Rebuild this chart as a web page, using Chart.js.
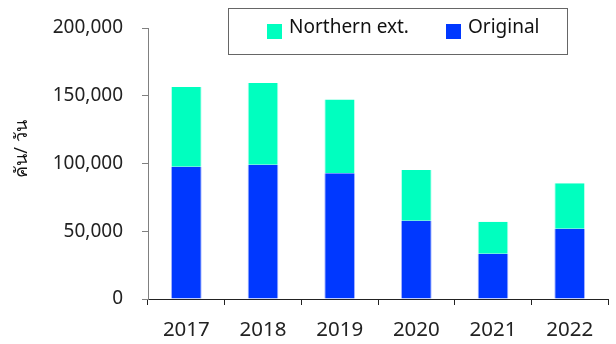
<!DOCTYPE html>
<html>
<head>
<meta charset="utf-8">
<script src="https://cdn.jsdelivr.net/npm/chart.js@4.4.1/dist/chart.umd.min.js"></script>
<style>
  html, body { margin: 0; padding: 0; background: #fff; }
  #wrap { width: 616px; height: 344px; position: relative; }
</style>
</head>
<body>
<div id="wrap"><canvas id="c"></canvas></div>
<script>
// data (vehicles per day)
const years = ["2017", "2018", "2019", "2020", "2021", "2022"];
const original = [97600, 99100, 92800, 57800, 33400, 51900];
const northernExt = [58900, 60300, 54400, 37400, 23600, 33500];
const yTicks = [0, 50000, 100000, 150000, 200000];
const yTitle = "คัน/ วัน";

const FONT = "'Noto Sans', sans-serif";
const GREEN = "#00ffbf";
const BLUE = "#0038ff";

// framed legend + rotated axis title, drawn by hand to match placement
const extras = {
  id: "extras",
  afterDraw(chart) {
    const ctx = chart.ctx;
    ctx.save();
    ctx.strokeStyle = "#666";
    ctx.lineWidth = 1;
    ctx.strokeRect(228.5, 8.5, 339, 46);

    const items = [
      { label: "Northern ext.", color: GREEN, x: 267 },
      { label: "Original", color: BLUE, x: 446 },
    ];
    ctx.font = `19px ${FONT}`;
    ctx.textBaseline = "middle";
    for (const it of items) {
      ctx.fillStyle = it.color;
      ctx.fillRect(it.x, 24, 15, 15);
      ctx.fillStyle = "#111";
      ctx.fillText(it.label, it.x + 22, 28);
    }

    ctx.translate(22, 149);
    ctx.rotate(-Math.PI / 2);
    ctx.textAlign = "center";
    ctx.font = `18px ${FONT}`;
    ctx.fillText(yTitle, 0, 0);
    ctx.restore();
  },
};

new Chart(document.getElementById("c"), {
  type: "bar",
  data: {
    labels: years,
    datasets: [
      { label: "Original", data: original, backgroundColor: BLUE, borderColor: "#9fb0ff", borderWidth: { left: 1, right: 1 }, barPercentage: 0.4, categoryPercentage: 1 },
      { label: "Northern ext.", data: northernExt, backgroundColor: GREEN, borderColor: "#b5ffec", borderWidth: { left: 1, right: 1 }, barPercentage: 0.4, categoryPercentage: 1 },
    ],
  },
  options: {
    responsive: true,
    maintainAspectRatio: false,
    animation: false,
    layout: { padding: { left: 0, right: 8, top: 28, bottom: 0 } },
    plugins: { legend: { display: false }, tooltip: { enabled: false } },
    scales: {
      x: {
        stacked: true,
        border: { color: "#222", width: 1 },
        grid: { offset: true, drawOnChartArea: false, drawTicks: true, tickLength: 6, color: "#222" },
        ticks: { color: "#222", font: { family: FONT, size: 20.5 }, padding: 13 },
        afterFit: (s) => { s.height = 45; },
      },
      y: {
        stacked: true,
        min: 0,
        max: 200000,
        border: { color: "#808080", width: 1 },
        grid: { drawOnChartArea: false, drawTicks: true, tickLength: 6, color: "#808080" },
        afterBuildTicks: (s) => { s.ticks = yTicks.map((v) => ({ value: v })); },
        ticks: {
          color: "#222",
          font: { family: FONT, size: 19 },
          padding: 19,
          callback: (v) => Number(v).toLocaleString("en-US"),
        },
        afterFit: (s) => { s.width = 148; s.paddingTop = 0; s.paddingBottom = 0; },
      },
    },
  },
  plugins: [extras],
});
</script>
</body>
</html>
